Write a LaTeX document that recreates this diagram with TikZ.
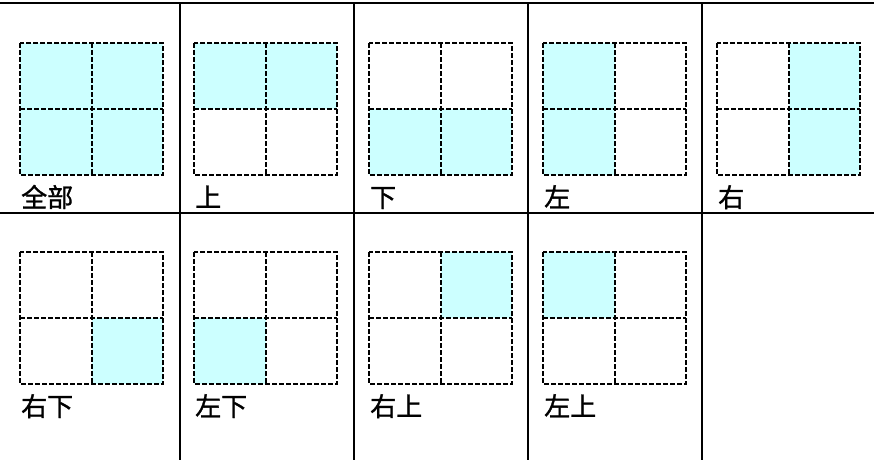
\documentclass[tikz,border=0pt]{standalone}
\usepackage{fontspec}
\newfontfamily\cjk[FakeBold=1.2]{Noto Sans CJK SC}
\usetikzlibrary{positioning}
\definecolor{paleaqua}{HTML}{CCFFFF}

\tikzset{
  rule/.style={line width=2pt, black},
  cellline/.style={line width=2pt, black, dash pattern=on 5pt off 2pt},
  lbl/.style={font=\cjk\fontsize{26}{26}\selectfont, anchor=base west, inner sep=0pt},
}

% one 2x2 panel: name, origin, fills TL TR BL BR, label
\newcommand\quadpanel[7]{%
  \begin{scope}[shift={(#2)}]
    \fill[#3] (0,0) rectangle (71.5,66);
    \fill[#4] (71.5,0) rectangle (143,66);
    \fill[#5] (0,66) rectangle (71.5,132);
    \fill[#6] (71.5,66) rectangle (143,132);
    \draw[cellline] (0,0) rectangle (143,132) (71.5,0) -- (71.5,132) (0,66) -- (143,66);
    \node[lbl] (#1) at (1,164) {#7};
  \end{scope}}

\begin{document}
\begin{tikzpicture}[x=1pt, y=-1pt]
\useasboundingbox (0,0) rectangle (874,460);

% table rules
\coordinate (tl) at (0,3); \coordinate (tr) at (874,3);
\coordinate (ml) at (0,213); \coordinate (mr) at (874,213);
\draw[rule] (tl) -- (tr);
\draw[rule] (ml) -- (mr);
\foreach \x in {180,354,528,702}
  \draw[rule] (\x,3) -- (\x,460);

% Row 1
\quadpanel{all}{20,43}{paleaqua}{paleaqua}{paleaqua}{paleaqua}{全部}
\quadpanel{top}{194,43}{paleaqua}{paleaqua}{white}{white}{上}
\quadpanel{bottom}{369,43}{white}{white}{paleaqua}{paleaqua}{下}
\quadpanel{left}{543,43}{paleaqua}{white}{paleaqua}{white}{左}
\quadpanel{right}{717,43}{white}{paleaqua}{white}{paleaqua}{右}

% Row 2
\quadpanel{br}{20,252}{white}{white}{white}{paleaqua}{右下}
\quadpanel{bl}{194,252}{white}{white}{paleaqua}{white}{左下}
\quadpanel{tr}{369,252}{white}{paleaqua}{white}{white}{右上}
\quadpanel{tlp}{543,252}{paleaqua}{white}{white}{white}{左上}
\end{tikzpicture}
\end{document}
